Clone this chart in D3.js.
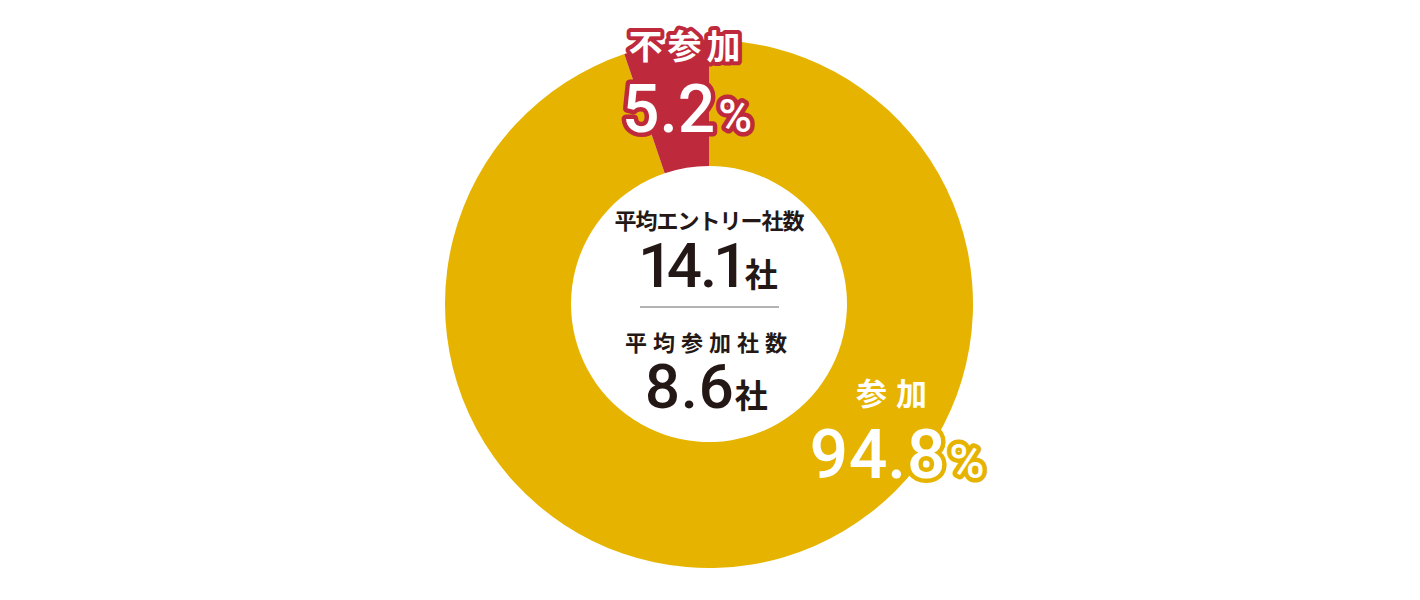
<!DOCTYPE html>
<html>
<head>
<meta charset="utf-8">
<script src="https://cdn.jsdelivr.net/npm/d3@7"></script>
<style>
  body { margin: 0; background: #fff; }
  text { font-family: "Noto Sans CJK JP", sans-serif; }
  .num { font-family: Roboto, "Noto Sans", sans-serif; font-weight: 500; font-variant-numeric: proportional-nums; }
</style>
</head>
<body>
<div id="chart-area"></div>
<script>
// slices, clockwise from 12 o'clock
var labels = ["参加", "不参加"];
var values = [94.8, 5.2];
var colors = ["#e6b400", "#be2a3b"];

// figures shown in the hole
var statLabels = ["平均エントリー社数", "平均参加社数"];
var statValues = [14.1, 8.6];
var statUnit = "社";

var width = 1420, height = 600;
var cx = 709, cy = 304;
var outerR = 264, innerR = 138;

var svg = d3.select("#chart-area").append("svg")
	.attr("width", width)
	.attr("height", height);

var g = svg.append("g")
	.attr("transform", "translate(" + cx + "," + cy + ")");

var pie = d3.pie().sort(null).value(function(d){ return d; });
var arc = d3.arc().innerRadius(innerR).outerRadius(outerR);

g.selectAll("path")
	.data(pie(values))
	.enter()
	.append("path")
		.attr("d", arc)
		.style("fill", function(d, i){ return colors[i]; });

// slice labels: white text with an outline in the slice colour
var labelPos = [
	{ name: [187, 101], pct: [188, 174] },   // 参加
	{ name: [-22, -245], pct: [-22, -172] }  // 不参加
];

labels.forEach(function(lab, i){
	var p = labelPos[i];
	var big = i == 1 ? 66 : 68;

	g.append("text")
		.attr("x", p.name[0])
		.attr("y", p.name[1])
		.attr("text-anchor", "middle")
		.style("font-size", i == 1 ? "34px" : "31px")
		.style("font-weight", 700)
		.style("letter-spacing", i == 1 ? "5px" : "9px")
		.style("fill", "#fff")
		.style("stroke", colors[i])
		.style("stroke-width", 8)
		.style("stroke-linejoin", "round")
		.style("paint-order", "stroke")
		.text(lab);

	var t = g.append("text")
		.attr("class", "num")
		.attr("x", p.pct[0])
		.attr("y", p.pct[1])
		.attr("text-anchor", "middle")
		.style("fill", "#fff")
		.style("stroke", colors[i])
		.style("stroke-width", 9)
		.style("stroke-linejoin", "round")
		.style("paint-order", "stroke");
	t.append("tspan")
		.style("font-size", big + "px")
		.style("letter-spacing", i == 1 ? "0px" : "0px")
		.text(values[i].toFixed(1));
	t.append("tspan")
		.style("font-size", Math.round(big * 0.7) + "px")
		.attr("dx", 3)
		.text("%");
});

// centre figures
var statY = [-75, 47];
statLabels.forEach(function(lab, i){
	g.append("text")
		.attr("x", 0)
		.attr("y", statY[i])
		.attr("text-anchor", "middle")
		.style("font-size", "22px")
		.style("font-weight", 700)
		.style("letter-spacing", i == 0 ? "-1px" : "6px")
		.style("fill", "#231815")
		.text(lab);

	var t = g.append("text")
		.attr("x", i == 0 ? 0 : -3)
		.attr("y", statY[i] + (i == 0 ? 58 : 57))
		.attr("text-anchor", "middle")
		.style("fill", "#231815");
	t.append("tspan")
		.attr("class", "num")
		.style("font-size", "62px")
		.style("letter-spacing", i == 0 ? "-2px" : "0px")
		.text(statValues[i].toFixed(1));
	t.append("tspan")
		.attr("dx", i == 0 ? 3 : 1)
		.style("font-size", "33px")
		.style("font-weight", 700)
		.text(statUnit);
});

g.append("line")
	.attr("x1", -69).attr("x2", 70)
	.attr("y1", 3).attr("y2", 3)
	.style("stroke", "#9a9a9a")
	.style("stroke-width", 1.5);
</script>
</body>
</html>
